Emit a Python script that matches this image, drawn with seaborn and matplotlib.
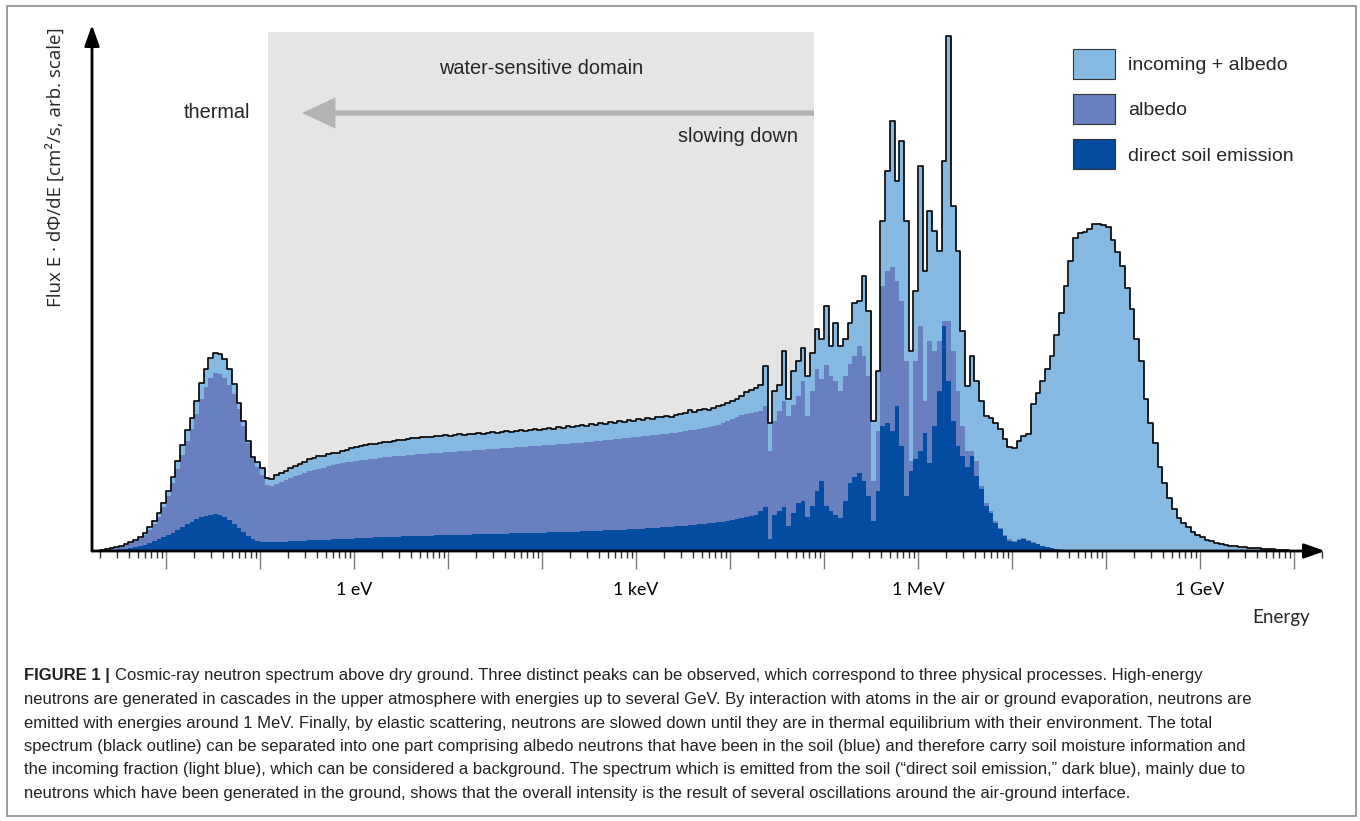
import numpy as np
import matplotlib
matplotlib.use("Agg")
import matplotlib.pyplot as plt
import seaborn as sns
from matplotlib.patches import Patch, Rectangle
from matplotlib.ticker import LogLocator, FuncFormatter, NullFormatter

# ---------------- data (heights in arbitrary flux units) ----------------
bin_start_log10_ev = -2.75
bin_width_dex = 0.05

total_flux = [
    0.5, 1, 2, 3, 4, 5, 7, 9, 11, 14,
    18, 24, 30, 38, 48, 60, 74, 90, 106, 121,
    133, 150, 168, 182, 193, 198, 197, 192, 182, 167,
    148, 130, 110, 94, 89, 83, 73, 72, 76, 78,
    80, 83, 85, 87, 89, 92, 93, 95, 95, 97,
    98, 98, 100, 101, 103, 104, 105, 106, 107, 107,
    108, 109, 109, 110, 111, 111, 112, 113, 113, 114,
    114, 114, 115, 115, 116, 115, 116, 117, 116, 117,
    117, 118, 117, 118, 119, 118, 119, 120, 119, 120,
    121, 120, 121, 122, 121, 122, 123, 122, 124, 123,
    125, 124, 125, 126, 125, 127, 126, 128, 127, 129,
    128, 130, 129, 131, 130, 132, 131, 133, 132, 134,
    134, 135, 134, 136, 137, 138, 141, 139, 141, 142,
    141, 143, 145, 146, 148, 150, 152, 155, 159, 161,
    163, 166, 185, 128, 160, 166, 200, 152, 180, 190,
    203, 175, 198, 222, 212, 245, 205, 228, 205, 212,
    228, 248, 250, 275, 240, 130, 180, 330, 380, 430,
    370, 410, 330, 200, 260, 385, 280, 340, 320, 300,
    390, 515, 345, 300, 220, 165, 195, 170, 150, 135,
    133, 128, 122, 112, 104, 103, 110, 115, 117, 147,
    158, 170, 182, 195, 216, 238, 265, 290, 313, 318,
    319, 322, 327, 327, 326, 324, 311, 299, 285, 263,
    242, 212, 190, 152, 128, 108, 84, 68, 53, 42,
    33, 28, 24, 19, 16, 14, 11, 10, 8, 7,
    6, 5, 5, 4, 4, 3, 3, 3, 2, 2,
    2, 1, 1, 1, 0.5,
]

albedo_flux = [
    0.5, 1, 1.5, 2.5, 3.5, 4.5, 6, 8, 10, 13,
    16, 21, 27, 34, 44, 55, 68, 82, 96, 110,
    122, 137, 152, 164, 173, 178, 177, 173, 166, 157,
    142, 125, 108, 93, 84, 76, 66, 65, 67, 69,
    71, 73, 75, 76, 78, 80, 81, 82, 83, 85,
    86, 87, 88, 89, 89, 90, 91, 91, 92, 92,
    93, 94, 94, 95, 95, 95, 96, 96, 97, 97,
    97, 98, 98, 98, 99, 99, 99, 100, 100, 100,
    101, 101, 101, 102, 102, 102, 103, 103, 103, 104,
    104, 104, 105, 105, 105, 106, 106, 106, 107, 107,
    107, 108, 108, 108, 109, 109, 110, 110, 111, 111,
    112, 112, 113, 113, 114, 114, 115, 115, 116, 116,
    117, 117, 118, 118, 119, 120, 121, 121, 122, 123,
    124, 125, 126, 128, 130, 132, 134, 136, 137, 138,
    139, 140, 145, 100, 130, 140, 150, 135, 146, 155,
    170, 135, 160, 182, 172, 186, 175, 170, 160, 175,
    187, 195, 205, 195, 175, 70, 120, 265, 280, 284,
    270, 250, 190, 90, 190, 225, 150, 210, 200, 210,
    230, 230, 200, 160, 125, 100, 100, 90, 65, 48,
    40, 30, 23, 16, 12, 10, 12, 13, 11, 9,
    7, 5, 4, 3, 2.5, 2, 1.5, 1, 0.5,
]

direct_soil_flux = [
    0.3, 0.5, 0.8, 1, 1.5, 2, 2.5, 3, 4, 5,
    6, 8, 10, 12, 14, 16, 18, 21, 24, 27,
    29, 32, 34, 35, 36, 37, 36, 34, 31, 27,
    23, 19, 15, 12, 10, 9, 9, 9, 9, 9,
    9.5, 10, 10, 10, 10.5, 11, 11, 11, 11, 11.5,
    12, 12, 12, 12, 12.5, 13, 13, 13, 13.5, 14,
    14, 14, 14.5, 14.5, 14.5, 15, 15, 15, 15.5, 15.5,
    15.5, 15.5, 16, 16, 16, 16, 16.5, 16.5, 16.5, 16.5,
    17, 17, 17, 17, 17.5, 17.5, 17.5, 17.5, 18, 18,
    18, 18, 18.5, 18.5, 18.5, 18.5, 19, 19, 19, 19,
    19.5, 19.5, 19.5, 20, 20, 20, 20.5, 20.5, 21, 21,
    21, 21.5, 21.5, 22, 22, 22.5, 22.5, 23, 23, 23.5,
    24, 24, 24.5, 25, 25, 25.5, 26, 26.5, 27, 27.5,
    28, 28.5, 29, 29.5, 30, 31, 32, 33, 34, 35,
    36, 40, 44, 12, 36, 40, 44, 25, 38, 48,
    50, 34, 45, 60, 70, 45, 40, 36, 33, 50,
    68, 74, 78, 70, 55, 30, 60, 125, 128, 120,
    145, 105, 55, 80, 92, 100, 118, 88, 125, 160,
    225, 170, 130, 105, 95, 84, 95, 75, 62, 45,
    38, 28, 22, 15, 10, 9, 11, 12, 10, 8,
    7, 5, 4, 3, 2, 1.5, 1, 0.5,
]

series_names = ["incoming + albedo", "albedo", "direct soil emission"]
series_colors = ["#85b9e1", "#6880c0", "#044ca1"]

tick_values_ev = [1.0, 1e3, 1e6, 1e9]
tick_labels = ["1 eV", "1 keV", "1 MeV", "1 GeV"]

water_domain_ev = (0.1216, 7.83e4)
slowing_arrow_tip_ev = 0.28
arrow_level = 438

caption_bold = "FIGURE 1 |"
caption_lines = [
    "Cosmic-ray neutron spectrum above dry ground. Three distinct peaks can be observed, which correspond to three physical processes. High-energy",
    "neutrons are generated in cascades in the upper atmosphere with energies up to several GeV. By interaction with atoms in the air or ground evaporation, neutrons are",
    "emitted with energies around 1 MeV. Finally, by elastic scattering, neutrons are slowed down until they are in thermal equilibrium with their environment. The total",
    "spectrum (black outline) can be separated into one part comprising albedo neutrons that have been in the soil (blue) and therefore carry soil moisture information and",
    "the incoming fraction (light blue), which can be considered a background. The spectrum which is emitted from the soil (\u201cdirect soil emission,\u201d dark blue), mainly due to",
    "neutrons which have been generated in the ground, shows that the overall intensity is the result of several oscillations around the air-ground interface.",
]

# ---------------- figure ----------------
sns.set_theme(style="white")
plt.rcParams["font.family"] = ["Liberation Sans", "DejaVu Sans"]

W, H = 1360, 821
fig = plt.figure(figsize=(W / 100, H / 100), dpi=100)


def fx(px):
    return px / W


def fy(py):
    return 1 - py / H


x0, x1, ybase, ytop = 92, 1325, 551, 25
ax = fig.add_axes([fx(x0), fy(ybase), fx(x1) - fx(x0), fy(ytop) - fy(ybase)])
ax.set_xscale("log")
px_per_dec, px_1ev = 94.0, 354.0
ax.set_xlim(10 ** ((x0 - px_1ev) / px_per_dec), 10 ** ((x1 - px_1ev) / px_per_dec))
ax.set_ylim(0, ybase - ytop)
ax.set_facecolor("white")

# water-sensitive domain box
ax.axvspan(water_domain_ev[0], water_domain_ev[1], ymin=0,
           ymax=(ybase - 32) / (ybase - ytop), color="#e5e5e5", lw=0, zorder=0)

# filled spectra (overlapping, not stacked)
for vals, col, name in zip([total_flux, albedo_flux, direct_soil_flux], series_colors, series_names):
    v = np.asarray(vals, dtype=float)
    edges = 10 ** (bin_start_log10_ev + bin_width_dex * np.arange(len(v) + 1))
    ax.fill_between(edges, np.append(v, v[-1]), step="post", color=col, lw=0, zorder=2)

# black outline of the total spectrum
tv = np.asarray(total_flux, dtype=float)
tedges = 10 ** (bin_start_log10_ev + bin_width_dex * np.arange(len(tv) + 1))
sns.lineplot(x=np.r_[tedges[0], tedges], y=np.r_[0, tv, 0], drawstyle="steps-post",
             estimator=None, sort=False, color="black", lw=1.2, ax=ax, zorder=3)

# slowing-down arrow
ax.annotate("", xy=(slowing_arrow_tip_ev, arrow_level), xytext=(water_domain_ev[1], arrow_level),
            arrowprops=dict(arrowstyle="simple,head_length=1.2,head_width=1.12,tail_width=0.19",
                            mutation_scale=20, fc="#b3b3b3", ec="none", shrinkA=0, shrinkB=0),
            zorder=4)

# axes as arrows
for sp in ax.spines.values():
    sp.set_visible(False)
arrow_kw = dict(arrowstyle="-|>,head_length=0.9,head_width=0.32", lw=2.0, color="black",
                mutation_scale=14, shrinkA=0, shrinkB=0)
ax.annotate("", xy=(1, 0), xytext=(0, 0), xycoords="axes fraction", textcoords="axes fraction",
            arrowprops=arrow_kw, annotation_clip=False, zorder=6)
ax.annotate("", xy=(0, 1), xytext=(0, 0), xycoords="axes fraction", textcoords="axes fraction",
            arrowprops=arrow_kw, annotation_clip=False, zorder=6)

# ticks
label_map = dict(zip(tick_values_ev, tick_labels))


def fmt(v, pos):
    for t, lab in label_map.items():
        if np.isclose(v, t, rtol=1e-6):
            return lab
    return ""


ax.xaxis.set_major_locator(LogLocator(base=10, numticks=40))
ax.xaxis.set_minor_locator(LogLocator(base=10, subs=np.arange(2, 10), numticks=40))
ax.xaxis.set_major_formatter(FuncFormatter(fmt))
ax.xaxis.set_minor_formatter(NullFormatter())
ax.tick_params(axis="x", which="major", direction="out", bottom=True, length=13, width=1.0,
               color="#7a7a7a", pad=9, labelsize=12.8, labelcolor="black",
               labelfontfamily="Lato")
ax.tick_params(axis="x", which="minor", direction="out", bottom=True, length=5, width=1.0,
               color="#333333")
ax.set_yticks([])
ax.set_xlabel("")
ax.set_ylabel("")

# annotations
fig.text(fx(217), fy(113), "thermal", ha="center", va="center", fontsize=14.3)
fig.text(fx(541), fy(68), "water-sensitive domain", ha="center", va="center", fontsize=14.3)
fig.text(fx(798), fy(137), "slowing down", ha="right", va="center", fontsize=14.3)
fig.text(fx(1281), fy(618), "Energy", ha="center", va="center", fontsize=13.5,
         family=["Lato", "DejaVu Sans"])
fig.text(fx(55), fy(167), "Flux E \u00b7 d\u03a6/dE [cm\u00b2/s, arb. scale]", rotation=90,
         ha="center", va="center", fontsize=13.5, family=["Open Sans", "DejaVu Sans"])

# legend
handles = [Patch(facecolor=c, edgecolor="#333333", lw=0.8, label=n)
           for c, n in zip(series_colors, series_names)]
ax.legend(handles=handles, loc="upper left", bbox_to_anchor=(fx(1073), fy(49)),
          bbox_transform=fig.transFigure, frameon=False, fontsize=14,
          handlelength=2.16, handleheight=2.0, labelspacing=0.78, handletextpad=0.67,
          borderpad=0, borderaxespad=0)

# figure border
fig.add_artist(Rectangle((fx(7), fy(816)), fx(1356) - fx(7), fy(6) - fy(816),
                         transform=fig.transFigure, fill=False, ec="#8c8c8c", lw=1.2))

# caption
cap_y = [675, 699, 723, 746, 769, 793]
renderer = fig.canvas.get_renderer()
tb = fig.text(fx(24), fy(cap_y[0]), caption_bold, fontweight="bold", fontsize=12,
              va="center", color="#222222")
bb = tb.get_window_extent(renderer=renderer)
fig.text(bb.x1 / W + fx(5), fy(cap_y[0]), caption_lines[0], fontsize=12, va="center",
         color="#222222")
for yy, line in zip(cap_y[1:], caption_lines[1:]):
    fig.text(fx(24), fy(yy), line, fontsize=12, va="center", color="#222222")

fig.savefig("out.png", dpi=100)
